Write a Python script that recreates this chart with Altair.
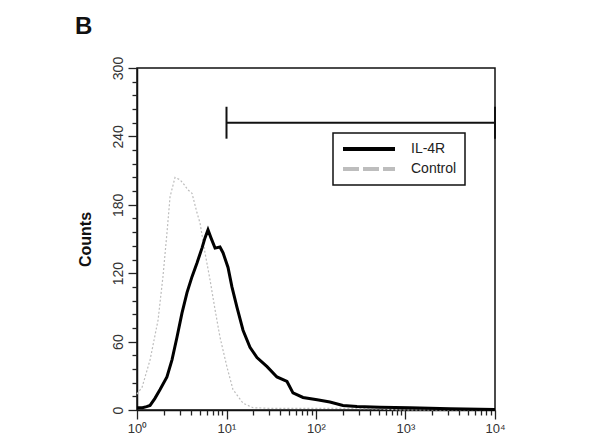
import altair as alt
import pandas as pd

# IL-4R stained cells (fluorescence, counts)
il4r_x = [1.0, 1.15, 1.28, 1.40, 1.58, 1.81, 2.16, 2.46, 2.80, 3.18, 3.62, 4.12,
          4.68, 5.32, 5.75, 6.21, 6.71, 7.45, 8.45, 9.14, 10.4, 11.5, 13.1, 15.3,
          18.3, 21.9, 28.4, 36.6, 47.4, 55.3, 71.6, 103, 143, 200, 287, 519,
          1120, 3140, 10000]
il4r_counts = [2, 2, 3, 4, 10, 18, 29, 44, 64, 85, 103, 117,
               129, 142, 151, 158, 151, 142, 143, 138, 125, 108, 90, 70,
               55, 46, 38, 29, 25, 15, 11, 9, 7, 4, 3, 2.5,
               2, 1, 0.5]

# isotype control
ctrl_x = [1.0, 1.14, 1.40, 1.72, 1.95, 2.16, 2.34, 2.66, 3.02, 3.27, 3.72, 4.12,
          4.68, 5.06, 5.75, 6.55, 7.45, 8.45, 10.1, 11.8, 15.3, 19.8, 30, 66,
          200, 500, 870, 10000]
ctrl_counts = [14, 20, 44, 79, 117, 155, 187, 204, 202, 199, 193, 190,
               173, 164, 138, 114, 88, 64, 38, 18, 6, 2, 1.5, 1.5,
               1.5, 1, 0, 0]

series_names = ["IL-4R", "Control"]
series_colors = ["#000000", "#bdbdbd"]
legend_dashes = [[1, 0], [16, 4]]

# marker gate
gate_lo, gate_hi, gate_level = 10, 10000, 252
gate_cap = [238, 266]

x_major = [1, 10, 100, 1000, 10000]
x_minor = [k * d for d in x_major[:-1] for k in range(2, 10)]
y_major = [0, 60, 120, 180, 240, 300]
y_minor = [v for v in range(0, 301, 12) if v % 60]

hist = pd.DataFrame({
    "fluor": il4r_x + ctrl_x,
    "counts": il4r_counts + ctrl_counts,
    "series": [series_names[0]] * len(il4r_x) + [series_names[1]] * len(ctrl_x),
})
gate = pd.DataFrame({"lo": [gate_lo], "hi": [gate_hi], "level": [gate_level]})
caps = pd.DataFrame({"pos": [gate_lo, gate_hi], "c0": gate_cap[:1] * 2, "c1": gate_cap[1:] * 2})

sup = "['\u2070','\u00b9','\u00b2','\u00b3','\u2074'][round(log(datum.value)/LN10)]"
tick_style = dict(grid=False, tickColor="#222", tickWidth=1.3)

x_axis = alt.Axis(
    values=x_major, labelExpr=f"'10' + {sup}", tickSize=9, title=None,
    labelOverlap=False, labelFlush=False, domainColor="#111", domainWidth=1.5,
    labelFont="Liberation Sans", labelFontSize=13, labelColor="#333", labelPadding=3,
    **tick_style,
)
y_axis = alt.Axis(
    values=y_major, tickSize=9, labelOverlap=False, labelFlush=False,
    labelAngle=270, labelAlign="center", labelBaseline="bottom",
    domainColor="#111", domainWidth=1.5,
    labelFont="Liberation Sans", labelFontSize=14, labelColor="#333", labelPadding=3,
    title="Counts", titleFont="Liberation Sans", titleFontSize=16, titleFontWeight="bold",
    titleColor="#111", titlePadding=18,
    **tick_style,
)
x_minor_axis = alt.Axis(values=x_minor, tickSize=5, labels=False, domain=False,
                        orient="bottom", title=None, **tick_style)
y_minor_axis = alt.Axis(values=y_minor, tickSize=5, labels=False, domain=False,
                        orient="left", title=None, **tick_style)

x_scale = alt.Scale(type="log", domain=[1, 10000], nice=False)
y_scale = alt.Scale(domain=[0, 300], nice=False)

legend = alt.Legend(
    title=None, orient="none", legendX=196, legendY=65,
    symbolType="stroke", symbolSize=2700, symbolStrokeWidth=4,
    clipHeight=16, rowPadding=4, padding=8, labelOffset=14,
    labelFont="Liberation Sans", labelFontSize=14, labelColor="#222",
    strokeColor="#111",
)
color = alt.Color("series:N", scale=alt.Scale(domain=series_names, range=series_colors),
                  legend=legend)
dash = alt.StrokeDash("series:N", scale=alt.Scale(domain=series_names, range=legend_dashes),
                      legend=legend)

base = alt.Chart(hist)
ctrl_line = base.transform_filter(alt.datum.series == "Control").mark_line(
    strokeWidth=1.2, strokeDash=[2, 2]).encode(
    x=alt.X("fluor:Q", scale=x_scale, axis=x_axis),
    y=alt.Y("counts:Q", scale=y_scale, axis=y_axis),
    color=color,
)
il4r_line = base.transform_filter(alt.datum.series == "IL-4R").mark_line(strokeWidth=3).encode(
    x=alt.X("fluor:Q", scale=x_scale, axis=None),
    y=alt.Y("counts:Q", scale=y_scale, axis=None),
    color=color,
)
# no rows drawn: carries the legend dash pattern and the minor ticks
legend_key = base.transform_filter("false").mark_line(strokeWidth=4).encode(
    x=alt.X("fluor:Q", scale=x_scale, axis=x_minor_axis),
    y=alt.Y("counts:Q", scale=y_scale, axis=y_minor_axis),
    color=color,
    strokeDash=dash,
)

gate_rule = alt.Chart(gate).mark_rule(color="#111", strokeWidth=2).encode(
    x=alt.X("lo:Q", scale=x_scale, axis=None), x2="hi:Q",
    y=alt.Y("level:Q", scale=y_scale, axis=None))
cap_rule = alt.Chart(caps).mark_rule(color="#111", strokeWidth=2).encode(
    x=alt.X("pos:Q", scale=x_scale, axis=None),
    y=alt.Y("c0:Q", scale=y_scale, axis=None), y2="c1:Q")

chart = alt.layer(ctrl_line, il4r_line, legend_key, gate_rule, cap_rule).resolve_axis(
    x="independent", y="independent"
).properties(
    width=358, height=342,
    autosize=alt.AutoSizeParams(type="none"),
    padding={"left": 129, "top": 60, "right": 97, "bottom": 35},
    title=alt.TitleParams("B", anchor="start", frame="group", fontSize=24,
                          fontWeight="bold", font="Liberation Sans", color="#111",
                          dx=-62, offset=17),
).configure_view(stroke="#111", strokeWidth=1.5).configure_legend(strokeWidth=1.5)

chart.save("out.html", embed_options={"renderer": "svg", "actions": False})
